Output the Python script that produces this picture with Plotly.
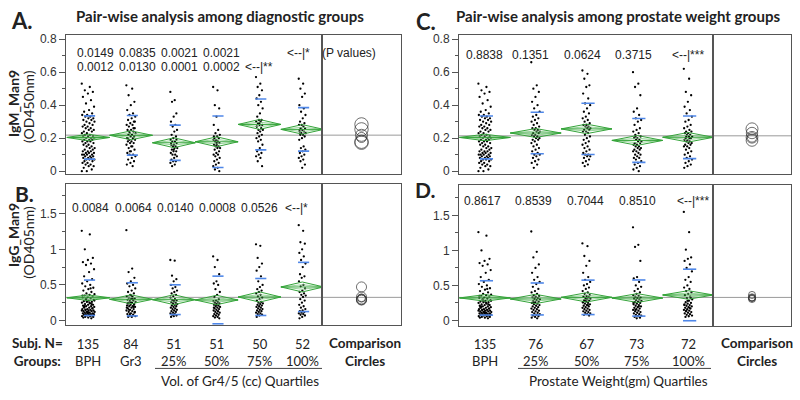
import plotly.graph_objects as go

# ---------------- data ----------------
diag_groups = ["BPH", "Gr3", "25%", "50%", "75%", "100%"]
diag_n = [135, 84, 51, 51, 50, 52]
weight_groups = ["BPH", "25%", "50%", "75%", "100%"]
weight_n = [135, 76, 67, 73, 72]

# IgM_Man9 (OD450nm) by diagnostic group
igm_bph = [0.53,0.51,0.49,0.48,0.47,0.45,0.43,0.41,0.39,0.37,0.36,0.35,0.34,0.34,0.33,0.33,0.32,0.32,0.31,0.31,
           0.30,0.30,0.29,0.28,0.28,0.27,0.27,0.26,0.26,0.25,0.25,0.24,0.24,0.23,0.23,0.22,0.22,0.21,0.21,0.21,
           0.20,0.20,0.20,0.19,0.19,0.19,0.18,0.18,0.18,0.17,0.17,0.16,0.16,0.15,0.15,0.14,0.14,0.13,0.13,0.12,
           0.12,0.12,0.11,0.11,0.11,0.10,0.10,0.10,0.10,0.09,0.09,0.09,0.08,0.08,0.08,0.07,0.07,0.07,0.06,0.06,
           0.05,0.05,0.04,0.04,0.03,0.03,0.02,0.01,0.00,0.00]
igm_gr3 = [0.52,0.50,0.46,0.42,0.40,0.37,0.35,0.34,0.33,0.32,0.31,0.30,0.29,0.28,0.28,0.27,0.26,0.25,0.25,0.24,
           0.23,0.23,0.22,0.22,0.21,0.21,0.20,0.20,0.19,0.19,0.18,0.18,0.17,0.17,0.16,0.15,0.14,0.13,0.12,0.11,
           0.10,0.10,0.09,0.08,0.07,0.06,0.05,0.04,0.03,0.24,0.30,0.15,0.20,0.26,0.12]
igm_vol25 = [0.48,0.43,0.42,0.35,0.33,0.30,0.28,0.27,0.25,0.24,0.22,0.21,0.20,0.19,0.18,0.18,0.17,0.16,0.16,0.15,
             0.15,0.14,0.14,0.13,0.12,0.12,0.11,0.10,0.10,0.09,0.08,0.07,0.06,0.06,0.05,0.04,0.03,0.19,0.13,0.17]
igm_vol50 = [0.51,0.49,0.40,0.38,0.33,0.28,0.25,0.23,0.22,0.21,0.20,0.20,0.19,0.19,0.18,0.18,0.17,0.16,0.16,0.15,
             0.15,0.14,0.14,0.13,0.12,0.11,0.10,0.10,0.09,0.08,0.07,0.06,0.05,0.04,0.03,0.02,0.01,0.00,0.17,0.21]
igm_vol75 = [0.57,0.53,0.51,0.49,0.46,0.44,0.42,0.40,0.38,0.35,0.33,0.31,0.31,0.30,0.30,0.29,0.28,0.28,0.27,0.26,
             0.25,0.25,0.24,0.23,0.22,0.21,0.20,0.19,0.18,0.16,0.14,0.12,0.11,0.10,0.09,0.08,0.06,0.03,0.29,0.27]
igm_vol100 = [0.56,0.53,0.50,0.47,0.45,0.40,0.38,0.36,0.34,0.32,0.30,0.29,0.28,0.28,0.27,0.26,0.26,0.25,0.24,0.24,
              0.23,0.23,0.22,0.22,0.21,0.20,0.19,0.15,0.14,0.13,0.12,0.11,0.10,0.09,0.08,0.07,0.06,0.04,0.02,0.25]

# IgG_Man9 (OD405nm) by diagnostic group
igg_bph = [1.26,1.21,1.00,0.88,0.85,0.82,0.80,0.78,0.72,0.68,0.62,0.58,0.55,0.52,0.50,0.48,0.46,0.44,0.42,0.40,
           0.38,0.37,0.36,0.35,0.34,0.33,0.32,0.31,0.30,0.29,0.28,0.27,0.26,0.26,0.25,0.24,0.23,0.22,0.22,0.21,
           0.20,0.20,0.19,0.18,0.18,0.17,0.16,0.16,0.15,0.15,0.14,0.14,0.13,0.13,0.12,0.12,0.11,0.11,0.10,0.10,
           0.10,0.09,0.09,0.08,0.08,0.08,0.07,0.07,0.06,0.06,0.05,0.05,0.04,0.04,0.03,0.30,0.28,0.25,0.20,0.17,
           0.12,0.35,0.45,0.15,0.09,0.11,0.19,0.23,0.27,0.14]
igg_gr3 = [1.27,0.73,0.68,0.60,0.55,0.52,0.50,0.48,0.45,0.42,0.40,0.38,0.36,0.34,0.33,0.32,0.31,0.30,0.29,0.28,
           0.27,0.26,0.25,0.24,0.23,0.22,0.21,0.20,0.20,0.19,0.18,0.17,0.16,0.15,0.14,0.13,0.12,0.11,0.10,0.09,
           0.08,0.07,0.06,0.05,0.05,0.22,0.26,0.18,0.30,0.15,0.12,0.35,0.24,0.19,0.09]
igg_vol25 = [0.85,0.84,0.63,0.58,0.55,0.50,0.47,0.45,0.42,0.40,0.38,0.36,0.34,0.32,0.30,0.29,0.28,0.27,0.26,0.25,
             0.24,0.23,0.22,0.21,0.20,0.19,0.18,0.17,0.16,0.15,0.14,0.13,0.12,0.11,0.10,0.09,0.08,0.07,0.06,0.05]
igg_vol50 = [0.90,0.85,0.75,0.65,0.55,0.52,0.50,0.44,0.40,0.36,0.33,0.30,0.28,0.27,0.26,0.25,0.24,0.23,0.22,0.21,
             0.20,0.19,0.18,0.17,0.16,0.15,0.14,0.13,0.12,0.11,0.10,0.09,0.08,0.07,0.06,0.05,0.04,0.03,0.22,0.18]
igg_vol75 = [1.07,1.05,0.88,0.80,0.75,0.70,0.62,0.55,0.50,0.47,0.44,0.42,0.40,0.38,0.36,0.34,0.32,0.30,0.28,0.26,
             0.25,0.24,0.23,0.22,0.21,0.20,0.19,0.18,0.17,0.16,0.15,0.14,0.13,0.12,0.11,0.10,0.09,0.08,0.07,0.05]
igg_vol100 = [1.34,1.26,1.10,1.08,1.00,0.95,0.90,0.85,0.80,0.75,0.65,0.62,0.60,0.55,0.50,0.48,0.45,0.42,0.40,0.38,
              0.36,0.35,0.33,0.30,0.28,0.25,0.22,0.20,0.18,0.16,0.14,0.13,0.12,0.11,0.10,0.09,0.08,0.07,0.05,0.03]

# IgM_Man9 by prostate weight quartile (BPH group is the same subjects)
igm_wt25 = [0.66,0.52,0.50,0.48,0.45,0.42,0.40,0.38,0.36,0.34,0.33,0.32,0.31,0.30,0.29,0.28,0.27,0.26,0.26,0.25,
            0.25,0.24,0.24,0.23,0.23,0.22,0.22,0.21,0.21,0.20,0.20,0.19,0.19,0.18,0.17,0.16,0.15,0.14,0.13,0.12,
            0.11,0.10,0.10,0.09,0.08,0.07,0.06,0.05,0.04,0.02]
igm_wt50 = [0.61,0.59,0.56,0.52,0.51,0.47,0.44,0.41,0.40,0.38,0.36,0.35,0.33,0.32,0.31,0.30,0.29,0.28,0.28,0.27,
            0.27,0.26,0.26,0.25,0.25,0.24,0.24,0.23,0.22,0.21,0.20,0.19,0.18,0.17,0.16,0.15,0.14,0.13,0.12,0.11,
            0.10,0.10,0.09,0.09,0.08,0.07,0.06,0.05,0.04,0.03]
igm_wt75 = [0.60,0.53,0.51,0.46,0.38,0.36,0.34,0.32,0.31,0.30,0.28,0.26,0.25,0.24,0.23,0.22,0.21,0.20,0.20,0.19,
            0.19,0.18,0.18,0.17,0.17,0.16,0.16,0.15,0.15,0.14,0.14,0.13,0.13,0.12,0.12,0.11,0.10,0.10,0.09,0.08,
            0.08,0.07,0.06,0.05,0.04,0.03,0.02,0.01,0.00,0.21]
igm_wt100 = [0.62,0.56,0.48,0.46,0.42,0.39,0.37,0.35,0.33,0.31,0.30,0.28,0.27,0.26,0.25,0.24,0.24,0.23,0.23,0.22,
             0.22,0.21,0.21,0.20,0.20,0.19,0.19,0.18,0.18,0.17,0.17,0.16,0.16,0.15,0.15,0.14,0.13,0.12,0.11,0.10,
             0.09,0.08,0.07,0.06,0.05,0.04,0.03,0.02,0.20,0.21]

# IgG_Man9 by prostate weight quartile
igg_wt25 = [1.27,0.98,0.90,0.80,0.75,0.68,0.62,0.58,0.55,0.52,0.48,0.45,0.42,0.40,0.38,0.36,0.35,0.34,0.33,0.32,
            0.31,0.30,0.29,0.28,0.27,0.26,0.25,0.24,0.23,0.22,0.21,0.20,0.19,0.18,0.17,0.16,0.15,0.14,0.13,0.12,
            0.11,0.10,0.09,0.08,0.07,0.06,0.05,0.04,0.03,0.25]
igg_wt50 = [1.10,1.06,0.92,0.85,0.78,0.68,0.62,0.58,0.55,0.52,0.50,0.47,0.45,0.42,0.40,0.38,0.36,0.35,0.34,0.33,
            0.32,0.31,0.30,0.29,0.28,0.27,0.26,0.25,0.24,0.23,0.22,0.21,0.20,0.19,0.18,0.17,0.16,0.15,0.14,0.13,
            0.12,0.11,0.10,0.09,0.08,0.07,0.30,0.26,0.22,0.28]
igg_wt75 = [1.33,1.08,1.05,0.85,0.62,0.60,0.55,0.50,0.48,0.45,0.42,0.40,0.38,0.36,0.35,0.34,0.33,0.32,0.31,0.30,
            0.29,0.28,0.27,0.26,0.25,0.24,0.23,0.22,0.21,0.20,0.19,0.18,0.17,0.16,0.15,0.14,0.13,0.12,0.11,0.10,
            0.09,0.08,0.07,0.06,0.05,0.04,0.03,0.25,0.20,0.15]
igg_wt100 = [1.55,1.26,1.01,0.90,0.88,0.85,0.80,0.75,0.70,0.62,0.58,0.55,0.50,0.47,0.45,0.42,0.40,0.38,0.36,0.34,
             0.32,0.30,0.28,0.26,0.25,0.24,0.23,0.22,0.21,0.20,0.19,0.18,0.17,0.16,0.15,0.14,0.13,0.12,0.11,0.10,
             0.09,0.08,0.07,0.06,0.05,0.32,0.28,0.22,0.18,0.14]

# group summaries (means diamonds, std-dev marks, comparison circles)
igm_diag_mean = [0.204, 0.217, 0.172, 0.178, 0.283, 0.253]
igm_diag_ci = [0.020, 0.027, 0.030, 0.030, 0.030, 0.029]
igm_diag_sd = [0.131, 0.120, 0.107, 0.156, 0.154, 0.132]
igm_diag_circle = [0.030, 0.036, 0.040, 0.040, 0.040, 0.040]
igm_diag_grand = 0.218

igg_diag_mean = [0.319, 0.297, 0.292, 0.288, 0.330, 0.471]
igg_diag_ci = [0.040, 0.063, 0.070, 0.066, 0.072, 0.070]
igg_diag_sd = [0.249, 0.233, 0.209, 0.335, 0.260, 0.346]
igg_diag_circle = [0.055, 0.065, 0.070, 0.070, 0.070, 0.070]
igg_diag_grand = 0.325

igm_wt_mean = [0.204, 0.231, 0.256, 0.186, 0.205]
igm_wt_ci = [0.020, 0.027, 0.029, 0.030, 0.029]
igm_wt_sd = [0.130, 0.126, 0.155, 0.133, 0.129]
igm_wt_circle = [0.028, 0.034, 0.036, 0.035, 0.035]
igm_wt_grand = 0.214

igg_wt_mean = [0.322, 0.307, 0.330, 0.320, 0.364]
igg_wt_ci = [0.047, 0.066, 0.066, 0.063, 0.061]
igg_wt_sd = [0.245, 0.228, 0.246, 0.258, 0.368]
igg_wt_circle = [0.045, 0.050, 0.050, 0.050, 0.050]
igg_wt_grand = 0.329

p_igm_diag_1 = ["0.0149", "0.0835", "0.0021", "0.0021"]
p_igm_diag_2 = ["0.0012", "0.0130", "0.0001", "0.0002"]
p_igg_diag = ["0.0084", "0.0064", "0.0140", "0.0008", "0.0526"]
p_igm_wt = ["0.8838", "0.1351", "0.0624", "0.3715"]
p_igg_wt = ["0.8617", "0.8539", "0.7044", "0.8510"]

# ---------------- layout helpers ----------------
W, H = 800, 400
def px(x):
    return x / W
def py(y):
    return 1 - y / H

SANS = "Lato, 'Open Sans', sans-serif"
ARIAL = "Arial, 'Liberation Sans', sans-serif"
FRAME = "#555555"
GREEN = "#35a43a"
GREEN_LIGHT = "#7cc97f"
BLUE = "#4f87e8"

panels = [
    dict(vals=[igm_bph, igm_gr3, igm_vol25, igm_vol50, igm_vol75, igm_vol100], n=diag_n,
         mean=igm_diag_mean, ci=igm_diag_ci, sd=igm_diag_sd, circ=igm_diag_circle, grand=igm_diag_grand,
         box=(66, 322, 401, 33, 175), yr=(-0.0197, 0.828), ticks=[0, 0.2, 0.4, 0.6, 0.8], minor=0.1,
         xr=(-0.52, 5.46)),
    dict(vals=[igg_bph, igg_gr3, igg_vol25, igg_vol50, igg_vol75, igg_vol100], n=diag_n,
         mean=igg_diag_mean, ci=igg_diag_ci, sd=igg_diag_sd, circ=igg_diag_circle, grand=igg_diag_grand,
         box=(66, 322, 401, 185, 328), yr=(-0.065, 1.9155), ticks=[0, 0.5, 1, 1.5], minor=0.25,
         xr=(-0.52, 5.46)),
    dict(vals=[igm_bph, igm_wt25, igm_wt50, igm_wt75, igm_wt100], n=weight_n,
         mean=igm_wt_mean, ci=igm_wt_ci, sd=igm_wt_sd, circ=igm_wt_circle, grand=igm_wt_grand,
         box=(459, 713, 791, 33, 175), yr=(-0.0197, 0.828), ticks=[0, 0.2, 0.4, 0.6, 0.8], minor=0.1,
         xr=(-0.51, 4.49)),
    dict(vals=[igg_bph, igg_wt25, igg_wt50, igg_wt75, igg_wt100], n=weight_n,
         mean=igg_wt_mean, ci=igg_wt_ci, sd=igg_wt_sd, circ=igg_wt_circle, grand=igg_wt_grand,
         box=(459, 713, 791, 186, 329), yr=(-0.080, 1.931), ticks=[0, 0.5, 1, 1.5], minor=0.25,
         xr=(-0.51, 4.49)),
]

fig = go.Figure()
layout = dict(width=W, height=H, margin=dict(l=0, r=0, t=0, b=0), autosize=False,
              paper_bgcolor="white", plot_bgcolor="white", showlegend=False)
shapes = []
annotations = []

def axname(letter, idx):
    return f"{letter}axis" if idx == 1 else f"{letter}axis{idx}"
def ref(letter, idx):
    return letter if idx == 1 else f"{letter}{idx}"

for p, P in enumerate(panels):
    mi, ci_ = 2 * p + 1, 2 * p + 2
    left, div, right, top, bottom = P["box"]
    xd_main = [px(left), px(div)]
    xd_comp = [px(div), px(right)]
    yd = [py(bottom), py(top)]
    x0r, x1r = P["xr"]
    spacing_px = (div - left) / (x1r - x0r)
    px_per_unit_y = (bottom - top) / (P["yr"][1] - P["yr"][0])

    layout[axname("x", mi)] = dict(domain=xd_main, range=list(P["xr"]), anchor=ref("y", mi),
                                   showticklabels=False, ticks="", showgrid=False, zeroline=False,
                                   showline=True, mirror=True, linecolor=FRAME, linewidth=1)
    layout[axname("y", mi)] = dict(domain=yd, range=list(P["yr"]), anchor=ref("x", mi),
                                   tickvals=P["ticks"], ticks="outside", ticklen=6, tickcolor=FRAME,
                                   tickfont=dict(family=ARIAL, size=12, color="#333333"),
                                   minor=dict(ticks="outside", ticklen=3, dtick=P["minor"], tick0=0,
                                              tickcolor=FRAME, showgrid=False),
                                   showgrid=False, zeroline=False, showline=True, mirror=True,
                                   linecolor=FRAME, linewidth=1)
    layout[axname("x", ci_)] = dict(domain=xd_comp, range=[0, 1], anchor=ref("y", ci_),
                                    showticklabels=False, ticks="", showgrid=False, zeroline=False,
                                    showline=True, mirror=True, linecolor=FRAME, linewidth=1)
    layout[axname("y", ci_)] = dict(domain=yd, range=list(P["yr"]), anchor=ref("x", ci_),
                                    showticklabels=False, ticks="", showgrid=False, zeroline=False,
                                    showline=True, mirror=True, linecolor=FRAME, linewidth=1)

    # grand mean line across plot and comparison area
    shapes.append(dict(type="line", xref="paper", yref=ref("y", mi), x0=px(left), x1=px(right),
                       y0=P["grand"], y1=P["grand"], line=dict(color="#9a9a9a", width=1), layer="below"))

    # jittered points
    xs, ys = [], []
    for i, vals in enumerate(P["vals"]):
        half_px = 3.5 + 3.0 * (P["n"][i] - 50) / 85
        half = half_px / spacing_px
        for j, v in enumerate(vals):
            xs.append(i + ((j * 0.6180339887) % 1.0 - 0.5) * 2 * half)
            ys.append(v)
    fig.add_trace(go.Scatter(x=xs, y=ys, mode="markers", xaxis=ref("x", mi), yaxis=ref("y", mi),
                             marker=dict(size=2.3, color="black", line=dict(width=0)),
                             hoverinfo="skip"))

    # means diamonds: inner overlap lines (lighter) then outline + mean line
    ix, iy = [], []
    dx, dy = [], []
    for i, (m, c) in enumerate(zip(P["mean"], P["ci"])):
        ix += [i - 0.5, i, i + 0.5, i, i - 0.5, None]
        iy += [m, m + 0.45 * c, m, m - 0.45 * c, m, None]
        dx += [i - 0.5, i, i + 0.5, i, i - 0.5, None, i - 0.5, i + 0.5, None]
        dy += [m, m + c, m, m - c, m, None, m, m, None]
    fig.add_trace(go.Scatter(x=ix, y=iy, mode="lines", xaxis=ref("x", mi), yaxis=ref("y", mi),
                             line=dict(color=GREEN_LIGHT, width=0.8), hoverinfo="skip"))
    fig.add_trace(go.Scatter(x=dx, y=dy, mode="lines", xaxis=ref("x", mi), yaxis=ref("y", mi),
                             line=dict(color=GREEN, width=1), hoverinfo="skip"))

    # std dev marks
    sx, sy = [], []
    for i, (m, s) in enumerate(zip(P["mean"], P["sd"])):
        sx += [i - 0.1, i + 0.16, None, i - 0.1, i + 0.16, None]
        sy += [m + s, m + s, None, m - s, m - s, None]
    fig.add_trace(go.Scatter(x=sx, y=sy, mode="lines", xaxis=ref("x", mi), yaxis=ref("y", mi),
                             line=dict(color=BLUE, width=1.6), hoverinfo="skip"))

    # comparison circles
    fig.add_trace(go.Scatter(x=[0.5] * len(P["mean"]), y=P["mean"], mode="markers",
                             xaxis=ref("x", ci_), yaxis=ref("y", ci_),
                             marker=dict(symbol="circle-open", color="#333333",
                                         size=[2 * r * px_per_unit_y for r in P["circ"]],
                                         line=dict(width=1, color="#333333")),
                             hoverinfo="skip"))

def txt(x, y, s, size, bold=False, family=SANS, xanchor="center", angle=0, color="#222222",
        xref="paper"):
    annotations.append(dict(x=x, y=py(y), xref=xref, yref="paper", text=f"<b>{s}</b>" if bold else s,
                            showarrow=False, xanchor=xanchor, yanchor="middle", textangle=angle,
                            font=dict(family=family, size=size, color=color)))

# panel letters and titles
txt(px(22), 19, "A.", 22, bold=True)
txt(px(220), 14, "Pair-wise analysis among diagnostic groups", 15, bold=True)
txt(px(426), 20, "C.", 22, bold=True)
txt(px(618), 14, "Pair-wise analysis among prostate weight groups", 15, bold=True)
txt(px(24), 194, "B.", 21, bold=True)
txt(px(425), 190, "D.", 21, bold=True)

# y-axis titles
txt(px(13.5), 103, "IgM_Man9", 14, bold=True, angle=-90)
txt(px(28.5), 106, "(OD450nm)", 14, angle=-90)
txt(px(13.5), 237, "IgG_Man9", 14, bold=True, angle=-90)
txt(px(28.5), 244, "(OD405nm)", 14, angle=-90)

# p values
for s, xc in zip(p_igm_diag_1, [95, 137, 179, 221]):
    txt(px(xc), 52, s, 12, family=ARIAL)
for s, xc in zip(p_igm_diag_2, [95, 137, 179, 221]):
    txt(px(xc), 66, s, 12, family=ARIAL)
txt(px(298), 52, "<--|*", 12, family=ARIAL)
txt(px(349), 52, "(P values)", 12, family=ARIAL)
txt(px(258.5), 66, "<--|**", 12, family=ARIAL)
for s, xc in zip(p_igg_diag, [90, 133, 175, 217, 259]):
    txt(px(xc), 209, s, 12, family=ARIAL)
txt(px(296), 209, "<--|*", 12, family=ARIAL)
for s, xc in zip(p_igm_wt, [485, 530, 582, 633]):
    txt(px(xc), 54, s, 12, family=ARIAL)
txt(px(688), 54, "<--|***", 12, family=ARIAL)
for s, xc in zip(p_igg_wt, [482, 533, 585, 637]):
    txt(px(xc), 202, s, 12, family=ARIAL)
txt(px(693), 202, "<--|***", 12, family=ARIAL)

# bottom labels (two-line blocks: N on top, group name below)
txt(px(10), 355.5, "<b>Subj. N=</b><br><b>Groups:</b>", 13.5, xanchor="left")
for i, (g, n) in enumerate(zip(diag_groups, diag_n)):
    txt(i, 355.5, f"{n}<br>{g}", 13, xref="x")
for i, (g, n) in enumerate(zip(weight_groups, weight_n)):
    txt(i, 355.5, f"{n}<br>{g}", 13, xref="x5")
shapes.append(dict(type="line", xref="paper", yref="paper", x0=px(155), x1=px(322), y0=py(372), y1=py(372),
                   line=dict(color="#444444", width=1)))
shapes.append(dict(type="line", xref="paper", yref="paper", x0=px(518), x1=px(711), y0=py(372), y1=py(372),
                   line=dict(color="#444444", width=1)))
txt(px(240), 385, "Vol. of Gr4/5 (cc) Quartiles", 13.5)
txt(px(618), 385, "Prostate Weight(gm) Quartiles", 13.5)
txt(px(365), 355.5, "<b>Comparison</b><br><b>Circles</b>", 13.5)
txt(px(757), 355.5, "<b>Comparison</b><br><b>Circles</b>", 13.5)

layout["shapes"] = shapes
layout["annotations"] = annotations
fig.update_layout(**layout)
fig.write_html("out.html", config={"displayModeBar": False, "staticPlot": True},
               post_script="document.body.style.margin='0';document.body.style.overflow='hidden';")
